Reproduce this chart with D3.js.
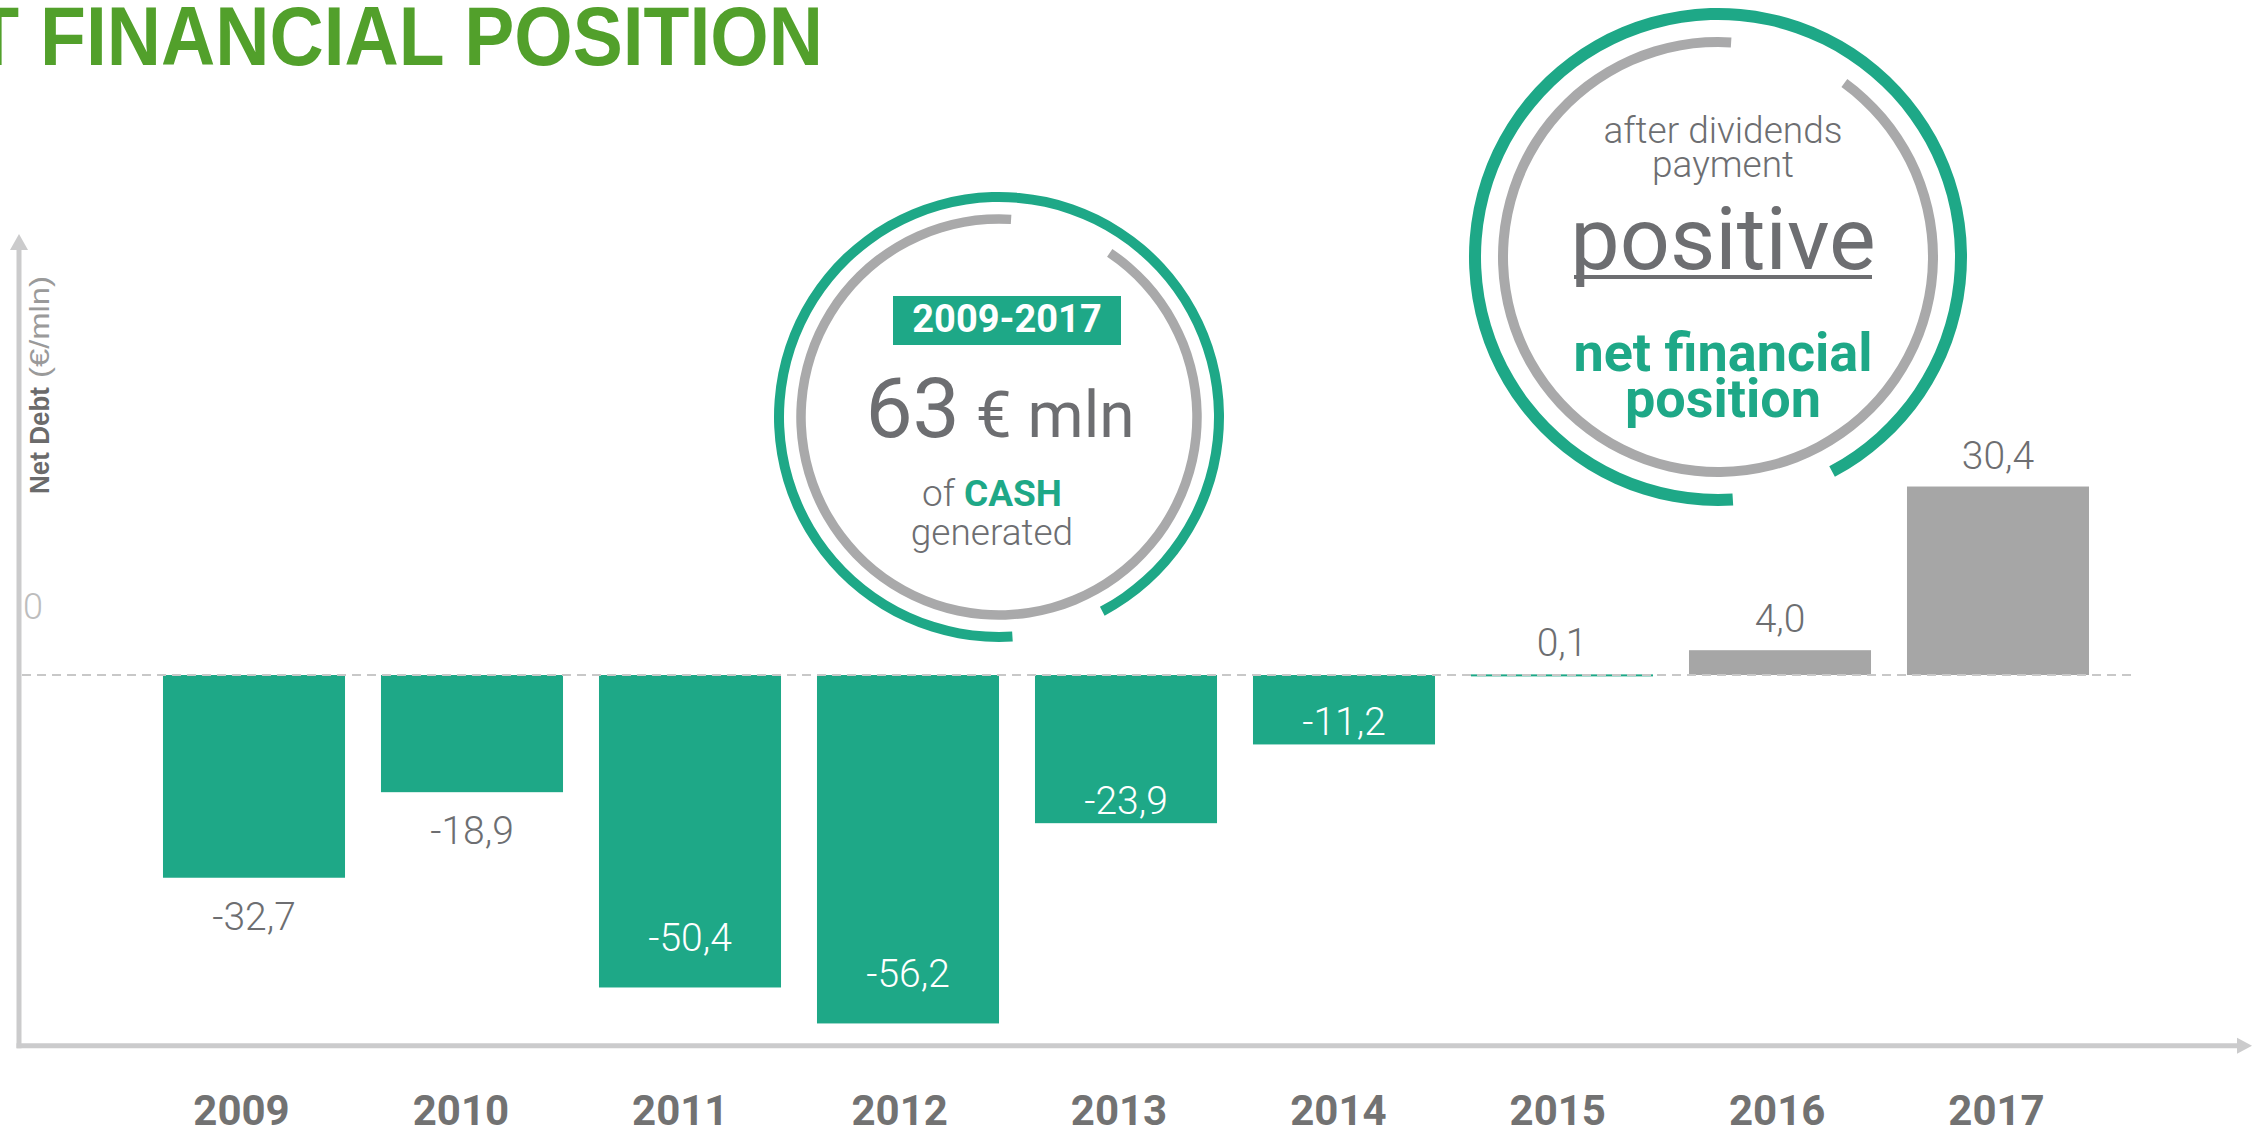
<!DOCTYPE html>
<html>
<head>
<meta charset="utf-8">
<script src="https://cdn.jsdelivr.net/npm/d3@7"></script>
<style>
  body { margin: 0; background: #fff; }
  svg { display: block; font-family: Roboto, "Noto Sans", sans-serif; }
</style>
</head>
<body>
<svg id="chart" width="2265" height="1130"></svg>
<script>
// net debt by year (€/mln) - negative = debt, positive = net cash
var years = ["2009", "2010", "2011", "2012", "2013", "2014", "2015", "2016", "2017"];
var netDebt = [-32.7, -18.9, -50.4, -56.2, -23.9, -11.2, 0.1, 4.0, 30.4];
// years drawn in grey
var greyYears = ["2016", "2017"];
// where each value label sits
var labelSpot = ["below", "below", "inside", "inside", "end", "end", "above", "above", "above"];
var yTicks = [0];

var teal = "#1ea887",
    grey = "#a6a6a6",
    ringGrey = "#a9a9aa",
    txt = "#6d6e71",
    axisCol = "#cbcbcc";

var svg = d3.select("#chart");

var fmt = d3.formatLocale({decimal: ",", thousands: ".", grouping: [3], currency: ["", ""], minus: "-"}).format(".1f");

var x = d3.scaleBand()
    .domain(years)
    .range([145, 2107])
    .paddingInner(0.165)
    .paddingOuter(0.0825);

// year labels in the slide are spaced a bit wider than the bars
var xLab = d3.scalePoint()
    .domain(years)
    .range([241, 1996]);

var y = d3.scaleLinear()
    .domain([-60, 40])
    .range([1047, 427]);

// title, partly cut off on the left like the slide
svg.append("text")
    .attr("x", -131)
    .attr("y", 65)
    .attr("textLength", 954)
    .attr("lengthAdjust", "spacingAndGlyphs")
    .style("font-family", "'Liberation Sans Narrow', 'Arial Narrow', 'Liberation Sans', sans-serif")
    .style("font-weight", "bold")
    .style("font-size", "84px")
    .style("fill", "#52a02b")
    .text("NET FINANCIAL POSITION");

// axes with arrows
var axisX0 = 19, axisY0 = y(-59.8);
svg.append("line")
    .attr("x1", axisX0).attr("y1", axisY0 + 2.5)
    .attr("x2", axisX0).attr("y2", 248)
    .style("stroke", axisCol).style("stroke-width", 5);
svg.append("path")
    .attr("d", "M" + (axisX0 - 9) + ",250L" + axisX0 + ",234L" + (axisX0 + 9) + ",250Z")
    .style("fill", axisCol);
svg.append("line")
    .attr("x1", axisX0 - 2.5).attr("y1", axisY0)
    .attr("x2", 2238).attr("y2", axisY0)
    .style("stroke", axisCol).style("stroke-width", 5);
svg.append("path")
    .attr("d", "M2237," + (axisY0 - 8) + "L2252," + axisY0 + "L2237," + (axisY0 + 8) + "Z")
    .style("fill", axisCol);

// y axis title
var yt = svg.append("g").attr("transform", "translate(49,494) rotate(-90)");
yt.append("text")
    .attr("x", 0).attr("y", 0)
    .attr("textLength", 107)
    .attr("lengthAdjust", "spacingAndGlyphs")
    .style("font-family", "'Liberation Sans Narrow', 'Arial Narrow', 'Liberation Sans', sans-serif")
    .style("font-weight", "bold")
    .style("font-size", "28px")
    .style("fill", "#6b6b6b")
    .text("Net Debt");
yt.append("text")
    .attr("x", 116).attr("y", 0)
    .attr("textLength", 102)
    .attr("lengthAdjust", "spacingAndGlyphs")
    .style("font-family", "'Liberation Sans Narrow', 'Arial Narrow', 'Liberation Sans', sans-serif")
    .style("font-size", "28px")
    .style("fill", "#9a9a9a")
    .text("(€/mln)");

// y tick "0" (sits above the zero line in the original)
var yAxis = svg.append("g")
    .attr("transform", "translate(23,0)")
    .call(d3.axisLeft(y).tickValues(yTicks).tickSize(0).tickPadding(0));
yAxis.select(".domain").remove();
yAxis.selectAll("text")
    .attr("text-anchor", "start")
    .attr("dy", -57)
    .style("font-family", "Roboto, sans-serif")
    .style("font-weight", 300)
    .style("font-size", "36px")
    .style("fill", "#bdbdbd");

// bars
var rows = years.map(function(yr, i) { return {year: yr, v: netDebt[i], spot: labelSpot[i]}; });

svg.selectAll("rect.bar")
  .data(rows)
  .enter()
  .append("rect")
    .attr("class", "bar")
    .attr("x", function(d) { return x(d.year); })
    .attr("width", x.bandwidth())
    .attr("y", function(d) { return y(Math.max(0, d.v)); })
    .attr("height", function(d) { return Math.max(2, Math.abs(y(d.v) - y(0))); })
    .style("fill", function(d) { return greyYears.indexOf(d.year) >= 0 ? grey : teal; });

// zero line
svg.append("line")
    .attr("x1", 22).attr("x2", 2131)
    .attr("y1", y(0)).attr("y2", y(0))
    .style("stroke", "#c8c8c8")
    .style("stroke-width", 2)
    .style("stroke-dasharray", "9,6");

function labelY(d) {
  if (d.spot == "below") return y(Math.min(0, d.v)) + 52;
  if (d.spot == "inside") return y(d.v) - 36;
  if (d.spot == "end") return y(d.v) - 9;
  return y(Math.max(0, d.v)) - 18;
}

svg.selectAll("text.val")
  .data(rows)
  .enter()
  .append("text")
    .attr("class", "val")
    .attr("x", function(d) { return x(d.year) + x.bandwidth() / 2; })
    .attr("y", labelY)
    .attr("text-anchor", "middle")
    .style("font-weight", 300)
    .style("font-size", "39px")
    .style("fill", function(d) { return (d.spot == "inside" || d.spot == "end") ? "#fff" : txt; })
    .text(function(d) { return fmt(d.v); });

// x axis year labels
var xAxis = svg.append("g")
    .attr("transform", "translate(0,1095)")
    .call(d3.axisBottom(xLab).tickSize(0).tickPadding(0));
xAxis.select(".domain").remove();
xAxis.selectAll("text")
    .style("font-family", "Roboto, sans-serif")
    .style("font-weight", 700)
    .style("font-size", "42px")
    .style("fill", "#727272");

// ring callouts
var deg = Math.PI / 180;
function ring(cx, cy, r, w, a0, a1, col) {
  svg.append("path")
    .attr("transform", "translate(" + cx + "," + cy + ")")
    .attr("d", d3.arc()({innerRadius: r - w / 2, outerRadius: r + w / 2, startAngle: a0 * deg, endAngle: a1 * deg}))
    .style("fill", col);
}

// left callout: cash generated
ring(999, 417, 220, 10, 176.5, 512, teal);
ring(999, 417, 198, 9.5, 34, 363.5, ringGrey);

svg.append("rect")
    .attr("x", 893).attr("y", 296)
    .attr("width", 228).attr("height", 49)
    .style("fill", teal);
svg.append("text")
    .attr("x", 1007).attr("y", 332)
    .attr("text-anchor", "middle")
    .style("font-weight", 700)
    .style("font-size", "38px")
    .style("fill", "#fff")
    .text("2009-2017");

var big = svg.append("text")
    .attr("x", 1000).attr("y", 437)
    .attr("text-anchor", "middle")
    .style("fill", txt);
big.append("tspan").style("font-size", "84px").text("63");
big.append("tspan").style("font-size", "64px").text(" € mln");

var cash = svg.append("text")
    .attr("x", 992).attr("y", 506)
    .attr("text-anchor", "middle")
    .style("font-size", "37px");
cash.append("tspan").style("font-weight", 300).style("fill", txt).text("of ");
cash.append("tspan").style("font-weight", 700).style("fill", teal).text("CASH");

svg.append("text")
    .attr("x", 992).attr("y", 545)
    .attr("text-anchor", "middle")
    .style("font-weight", 300)
    .style("font-size", "37px")
    .style("fill", txt)
    .text("generated");

// right callout: positive net financial position
ring(1718, 257, 243, 12, 176.5, 512, teal);
ring(1718, 257, 215, 10, 36, 363.5, ringGrey);

svg.append("text")
    .attr("x", 1723).attr("y", 143)
    .attr("text-anchor", "middle")
    .style("font-weight", 300)
    .style("font-size", "37px")
    .style("fill", txt)
    .text("after dividends");
svg.append("text")
    .attr("x", 1723).attr("y", 177)
    .attr("text-anchor", "middle")
    .style("font-weight", 300)
    .style("font-size", "37px")
    .style("fill", txt)
    .text("payment");
svg.append("text")
    .attr("x", 1723).attr("y", 269)
    .attr("text-anchor", "middle")
    .style("font-weight", 400)
    .style("font-size", "88px")
    .style("fill", txt)
    .text("positive");
svg.append("line")
    .attr("x1", 1574).attr("x2", 1872)
    .attr("y1", 277).attr("y2", 277)
    .style("stroke", txt)
    .style("stroke-width", 4);
svg.append("text")
    .attr("x", 1723).attr("y", 371)
    .attr("text-anchor", "middle")
    .style("font-weight", 700)
    .style("font-size", "54px")
    .style("fill", teal)
    .text("net financial");
svg.append("text")
    .attr("x", 1723).attr("y", 417)
    .attr("text-anchor", "middle")
    .style("font-weight", 700)
    .style("font-size", "54px")
    .style("fill", teal)
    .text("position");
</script>
</body>
</html>
